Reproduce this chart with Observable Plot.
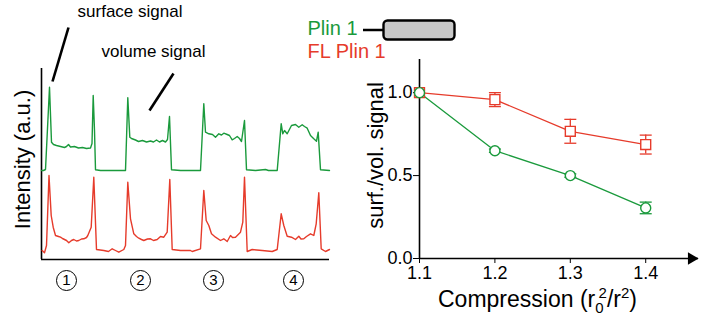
<!DOCTYPE html>
<html><head><meta charset="utf-8">
<script src="https://cdn.jsdelivr.net/npm/d3@7"></script>
<script src="https://cdn.jsdelivr.net/npm/@observablehq/plot@0.6"></script>
<style>
body{margin:0;background:#fff;}
#wrap{position:relative;width:709px;height:322px;overflow:hidden;font-family:"Liberation Sans",Arial,sans-serif;}
#left{position:absolute;top:0;left:0;width:340px;height:322px;}
#right{position:absolute;top:0;left:300px;width:409px;height:322px;}
</style></head><body>
<div id="wrap"><div id="left"></div><div id="right"></div></div>
<script>
const GREEN = "#1a9a3c", RED = "#e63b2b";

// Left panel: intensity profile along the compressed cells (position, intensity a.u.)
const greenTrace = [
  [0,89],[2,89],[4,90],[8,172.3],[10,117.3],[12,115],[15,114],[19,113],[23,112],[25,113],[27,115],[29,112.5],
  [33,113],[37,111.5],[41,112],[45,111],[49,111.5],[50.5,116],[51.7,164],[53,129],[54,89.7],[59,89],[69,89],
  [84,89],[86.3,161.7],[88.3,122.3],[90,121],[94,119.5],[97,118],[101,119],[105,117.5],[109,118.5],[112,117.5],
  [115,119.5],[118,117.5],[121,119],[124,117.5],[126,120],[128,143],[130,89.7],[139,89],[159,89],[162.3,155.7],
  [164,127.3],[167.3,125.7],[171,125],[174,122.3],[177.3,125.7],[180,124.5],[182.3,126.3],[185.7,125],[188,124],
  [190.7,119.7],[193,121],[195.7,123],[198,121],[200,118],[203,139],[205,89.7],[214,89],[224,90],[227,89],
  [235.7,89],[239.7,135.7],[241.3,125.7],[243,129],[245.7,125.7],[250,134],[254,135],[257.3,132.3],[260.7,134.7],
  [263,133],[265.7,131.3],[269,124],[271,122],[272.3,120.7],[275,118.3],[276.7,127.3],[279,89.7],[288,89]
];
const redTrace = [
  [0.7,9],[3,6.7],[5,14],[7.5,84],[9.7,44],[11.7,32.3],[14,24],[17,23],[19,22.3],[21,21],[25,19],[27.3,16.7],
  [30,19],[32.3,20],[35,18.5],[37.3,19],[40,20.5],[42.3,20.7],[45,22],[46.3,24],[49.7,32.3],[52.3,82.3],[55,10],
  [62.3,9],[67,8],[70.7,10.7],[74,9],[77.3,7.3],[82.3,10],[84,14],[86.3,77.3],[89,40.7],[92.3,25.7],[95,23],
  [97.3,21.3],[100,20],[102.3,19],[106,20.5],[109,20.7],[112,19],[115.7,20],[119,23],[122.3,22.3],[125.7,27.3],
  [128.3,80],[130.7,10],[139,9],[149,9],[150.7,8],[159,10.7],[162.3,69],[164.7,39],[167.3,34],[170,25.7],[174,22.3],
  [179,19],[182.3,20.7],[185.7,18],[189,24],[191,22],[194,22.3],[199,27.3],[201.3,37.3],[203,82.3],[205.7,8],
  [210.7,10],[220.7,9],[230.7,8],[235.7,10],[239.7,45.7],[242.3,34],[245.7,23.3],[250,22.3],[254,20],[257.3,23.3],
  [259.5,20.5],[262.3,20.7],[265,23],[269,25.7],[272.3,24],[274.7,35.7],[277.3,66.7],[279.7,10.7],[284,8],[288,10]
];
const cellLabels = ["1", "2", "3", "4"];
const cellCenters = [25, 99, 172, 252];
const annotationTexts = ["surface signal", "volume signal"];
const annotationAt = [[88.5, 248], [112, 207.5]];
const pointerFrom = [[27, 232], [132, 186]];
const pointerTo = [[11, 178], [108, 149]];

// Right panel
const compression = [1.1, 1.2, 1.3, 1.4];
const plin1 = [1.0, 0.65, 0.50, 0.305];
const plin1Err = [0, 0.01, 0.01, 0.035];
const flPlin1 = [1.0, 0.958, 0.767, 0.687];
const flPlin1Err = [0, 0.042, 0.072, 0.057];
const seriesNames = ["Plin 1", "FL Plin 1"];
const yTicks = [0, 0.5, 1.0];

const FONT = "Liberation Sans, Arial, sans-serif";

// ---------- left panel ----------
const cells = cellLabels.map((t, i) => ({t, x: cellCenters[i]}));
const notes = annotationTexts.map((t, i) => ({t, x: annotationAt[i][0], y: annotationAt[i][1]}));
const pointers = pointerFrom.map((p, i) => ({x1: p[0], y1: p[1], x2: pointerTo[i][0], y2: pointerTo[i][1]}));

const left = Plot.plot({
  width: 340, height: 322,
  marginLeft: 41, marginRight: 11, marginTop: 68, marginBottom: 63,
  x: {domain: [0, 288], axis: null},
  y: {domain: [0, 191], axis: null},
  style: {background: "transparent", overflow: "visible", fontFamily: FONT, color: "black"},
  marks: [
    Plot.ruleX([0], {stroke: "black", strokeWidth: 1.6}),
    Plot.ruleY([0], {stroke: "black", strokeWidth: 1.6}),
    Plot.line(greenTrace, {x: d => d[0], y: d => d[1], stroke: GREEN, strokeWidth: 1.4}),
    Plot.line(redTrace, {x: d => d[0], y: d => d[1], stroke: RED, strokeWidth: 1.4}),
    Plot.link(pointers, {x1: "x1", y1: "y1", x2: "x2", y2: "y2", stroke: "black", strokeWidth: 2.6}),
    Plot.text(notes, {x: "x", y: "y", text: "t", fontSize: 17, fill: "black"}),
    Plot.dot(cells, {x: "x", frameAnchor: "bottom", dy: 21, r: 10, stroke: "black", strokeWidth: 1, fill: "none"}),
    Plot.text(cells, {x: "x", frameAnchor: "bottom", lineAnchor: "middle", textAnchor: "middle", dy: 21, text: "t", fontSize: 15, fill: "black"}),
    Plot.text(["Intensity (a.u.)"], {text: d => d, frameAnchor: "left", textAnchor: "middle", lineAnchor: "middle", rotate: -90, dx: -19, dy: -4.5, fontSize: 22, fill: "black"})
  ]
});
document.getElementById("left").appendChild(left);

// ---------- right panel ----------
const rows = compression.flatMap((c, i) => [
  {series: "FL Plin 1", x: c, y: flPlin1[i], e: flPlin1Err[i]},
  {series: "Plin 1", x: c, y: plin1[i], e: plin1Err[i]}
]);
const errRows = rows.filter(d => d.e > 0);
const capRows = errRows.flatMap(d => [{...d, yc: d.y + d.e}, {...d, yc: d.y - d.e}]);
const capSymbol = {draw(ctx) { ctx.moveTo(-6, 0); ctx.lineTo(6, 0); }};

function legendGlyph() {
  const g = d3.create("svg:g");
  g.append("line").attr("x1", 63).attr("x2", 84).attr("y1", 30).attr("y2", 30)
    .attr("stroke", "black").attr("stroke-width", 2.5);
  g.append("rect").attr("x", 83.5).attr("y", 20.5).attr("width", 71).attr("height", 19).attr("rx", 4)
    .attr("fill", "#c8c8c8").attr("stroke", "black").attr("stroke-width", 2.4);
  return g.node();
}
function xLabel() {
  const t = d3.create("svg:text").attr("x", 138).attr("y", 307).attr("font-size", 23)
    .attr("fill", "black").attr("text-anchor", "start");
  t.append("tspan").text("Compression (r");
  t.append("tspan").attr("font-size", 15).attr("dy", 6).text("0");
  t.append("tspan").attr("font-size", 15).attr("dx", -5).attr("dy", -15).text("2");
  t.append("tspan").attr("dy", 9).text("/r");
  t.append("tspan").attr("font-size", 15).attr("dy", -9).text("2");
  t.append("tspan").attr("dy", 9).text(")");
  return t.node();
}

const right = Plot.plot({
  width: 409, height: 322,
  marginLeft: 119, marginRight: 11, marginTop: 59, marginBottom: 64,
  x: {domain: [1.1, 1.47], ticks: compression, tickFormat: ".1f", tickSize: 5, tickPadding: 3, label: null},
  y: {domain: [0, 1.2], ticks: yTicks, tickFormat: ".1f", tickSize: 6, tickPadding: 1, label: null},
  color: {domain: seriesNames, range: [GREEN, RED]},
  style: {background: "transparent", overflow: "visible", fontFamily: FONT, fontSize: "18px", color: "black"},
  marks: [
    Plot.ruleX([compression[0]], {stroke: "black", strokeWidth: 1.6}),
    Plot.ruleY([0], {stroke: "black", strokeWidth: 1.6}),
    Plot.dot([0], {y: d => d, frameAnchor: "right", dx: -7, symbol: "triangle", rotate: 90, r: 4.6, fill: "black"}),
    Plot.line(rows, {x: "x", y: "y", z: "series", stroke: "series", strokeWidth: 1.3}),
    Plot.ruleX(errRows, {x: "x", y1: d => d.y - d.e, y2: d => d.y + d.e, stroke: "series", strokeWidth: 1.3}),
    Plot.dot(capRows, {x: "x", y: "yc", symbol: capSymbol, stroke: "series", strokeWidth: 1.3, fill: "none"}),
    Plot.dot(rows.filter(d => d.series === "FL Plin 1"), {x: "x", y: "y", symbol: "square", r: 5.6, stroke: RED, strokeWidth: 1.4, fill: "white"}),
    Plot.dot(rows.filter(d => d.series === "Plin 1"), {x: "x", y: "y", symbol: "circle", r: 5, stroke: GREEN, strokeWidth: 1.4, fill: "white"}),
    Plot.text([seriesNames[0]], {text: d => d, fill: d => d, frameAnchor: "top-left", textAnchor: "start", lineAnchor: "middle", dx: -112, dy: -31, fontSize: 20}),
    Plot.text([seriesNames[1]], {text: d => d, fill: d => d, frameAnchor: "top-left", textAnchor: "start", lineAnchor: "middle", dx: -112, dy: -8, fontSize: 20}),
    legendGlyph,
    Plot.text(["surf./vol. signal"], {text: d => d, frameAnchor: "left", textAnchor: "middle", lineAnchor: "middle", rotate: -90, dx: -44, dy: -3.5, fontSize: 22, fill: "black"}),
    xLabel
  ]
});
document.getElementById("right").appendChild(right);
</script>
</body></html>
